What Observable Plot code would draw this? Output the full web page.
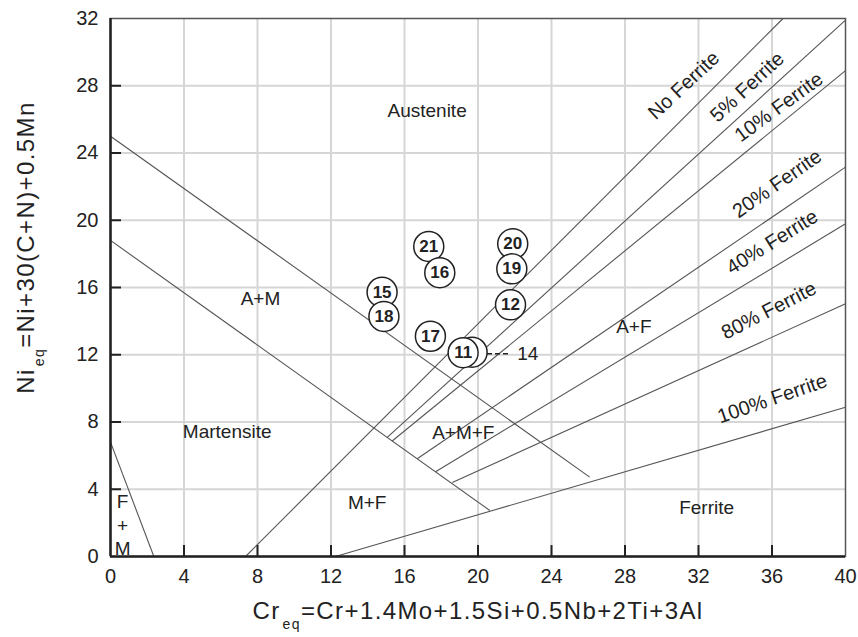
<!DOCTYPE html>
<html>
<head>
<meta charset="utf-8">
<script src="https://cdn.jsdelivr.net/npm/d3@7"></script>
<script src="https://cdn.jsdelivr.net/npm/@observablehq/plot@0.6"></script>
<style>
  body { margin: 0; background: #fff; }
  #chart svg { display: block; }
</style>
</head>
<body>
<div id="chart"></div>
<script>
// ---- tick values ----
const xTicks = [0, 4, 8, 12, 16, 20, 24, 28, 32, 36, 40];
const yTicks = [0, 4, 8, 12, 16, 20, 24, 28, 32];

// ---- boundary lines of the Schaeffler diagram ----
const lineNames = ["A / A+M", "M / A+M", "F+M / M", "No Ferrite", "5% Ferrite", "10% Ferrite", "20% Ferrite", "40% Ferrite", "80% Ferrite", "100% Ferrite"];
const lineX1 = [0, 0, 0, 7.35, 15.06, 15.33, 16.69, 17.69, 18.6, 12.24];
const lineY1 = [25, 18.8, 6.8, 0, 7.08, 6.87, 5.81, 5.04, 4.4, 0];
const lineX2 = [26.08, 20.64, 2.36, 36.6, 40, 40, 40, 40, 40, 40];
const lineY2 = [4.72, 2.74, 0, 32, 31.9, 28.9, 23.16, 19.79, 15.03, 8.88];

// ---- alloys (numbered circles) ----
const alloyIds = ["21", "16", "20", "19", "12", "15", "18", "17", "14", "11"];
const alloyCr  = [17.32, 17.92, 21.89, 21.84, 21.77, 14.78, 14.88, 17.41, 19.68, 19.19];
const alloyNi  = [18.44, 16.88, 18.6, 17.11, 14.97, 15.72, 14.28, 13.1, 12.15, 12.12];

// leader for alloy 14
const leaderX1 = [20.49];
const leaderX2 = [21.67];
const leaderY  = [12.06];
const leaderLabel = ["14"];
const leaderLabelX = [22.13];

// ---- region labels ----
const regionText = ["Austenite", "A+M", "Martensite", "M+F", "A+M+F", "A+F", "Ferrite", "F", "+", "M"];
const regionX = [17.23, 8.16, 6.35, 13.97, 19.2, 28.48, 32.44, 0.66, 0.66, 0.66];
const regionY = [26.52, 15.33, 7.39, 3.17, 7.35, 13.64, 2.9, 3.23, 1.84, 0.46];

// ---- ferrite-line labels ----
const ferriteText = ["No Ferrite", "5% Ferrite", "10% Ferrite", "20% Ferrite", "40% Ferrite", "80% Ferrite", "100% Ferrite"];
const ferriteX = [31.2, 34.65, 36.37, 36.28, 36.01, 35.83, 36.01];
const ferriteY = [28.02, 27.92, 26.73, 22.17, 18.70, 14.63, 9.38];
const ferriteAngle = [-43, -43, -36, -35, -32, -27, -19];

// ---- axis titles (main / subscript / rest) ----
const xTitleParts = ["Cr", "eq", "=Cr+1.4Mo+1.5Si+0.5Nb+2Ti+3Al"];
const yTitleParts = ["Ni", "eq", "=Ni+30(C+N)+0.5Mn"];

// build tables
const lines = lineNames.map((name, i) => ({name, x1: lineX1[i], y1: lineY1[i], x2: lineX2[i], y2: lineY2[i]}));
const alloys = alloyIds.map((id, i) => ({id, cr: alloyCr[i], ni: alloyNi[i]}));
const leaders = leaderLabel.map((t, i) => ({t, x1: leaderX1[i], x2: leaderX2[i], y: leaderY[i], lx: leaderLabelX[i]}));
const regions = regionText.map((t, i) => ({t, x: regionX[i], y: regionY[i]}));
const ferrite = ferriteText.map((t, i) => ({t, x: ferriteX[i], y: ferriteY[i], a: ferriteAngle[i]}));
const xTitle = xTitleParts.join("");
const yTitle = yTitleParts.join("");

const font = "Arial, 'Liberation Sans', sans-serif";
const innerX = xTicks.filter(t => t > 0 && t < 40);
const innerY = yTicks.filter(t => t > 0 && t < 32);

const chart = Plot.plot({
  width: 858,
  height: 637,
  marginLeft: 110,
  marginRight: 13,
  marginTop: 18,
  marginBottom: 81,
  x: {domain: [0, 40]},
  y: {domain: [0, 32]},
  style: {fontFamily: font, fontSize: "20px", color: "#222", background: "#fff"},
  marks: [
    Plot.ruleX(innerX, {stroke: "#d6d6d6", strokeWidth: 2}),
    Plot.ruleY(innerY, {stroke: "#d6d6d6", strokeWidth: 2}),
    Plot.link(lines, {x1: "x1", y1: "y1", x2: "x2", y2: "y2", stroke: "#555", strokeWidth: 1.1}),
    Plot.link(leaders, {x1: "x1", x2: "x2", y1: "y", y2: "y", stroke: "#222", strokeWidth: 1.3, strokeDasharray: "5,3"}),
    Plot.text(leaders, {x: "lx", y: "y", text: "t", textAnchor: "start", fontSize: 19, fill: "#222"}),
    Plot.dot(alloys, {x: "cr", y: "ni", r: 15, fill: "white", stroke: "#222", strokeWidth: 1.5}),
    Plot.text(alloys.filter(d => !leaderLabel.includes(d.id)), {x: "cr", y: "ni", text: "id", fontWeight: "bold", fontSize: 17, fill: "#222"}),
    Plot.text(regions, {x: "x", y: "y", text: "t", fontSize: 19, fill: "#222"}),
    Plot.text(ferrite, {x: "x", y: "y", text: "t", rotate: "a", fontSize: 20, fill: "#222"}),
    Plot.frame({stroke: "#555", strokeWidth: 1.5}),
    Plot.ruleX([0], {stroke: "#222", strokeWidth: 2.5}),
    Plot.ruleY([0], {stroke: "#222", strokeWidth: 2.5}),
    Plot.ruleX(innerX, {y1: 0, y2: 0.65, stroke: "#222", strokeWidth: 2}),
    Plot.ruleY(innerY, {x1: 0, x2: 0.6, stroke: "#222", strokeWidth: 2}),
    Plot.axisX({ticks: xTicks, tickSize: 0, tickPadding: 12, label: null, fontSize: 20}),
    Plot.axisY({ticks: yTicks, tickSize: 0, tickPadding: 12, label: null, fontSize: 20}),
    Plot.text([xTitle], {frameAnchor: "bottom", dy: 62, fontSize: 24, fill: "#222"}),
    Plot.text([yTitle], {frameAnchor: "left", textAnchor: "middle", rotate: -90, dx: -84, dy: -40, fontSize: 24, fill: "#222"})
  ]
});

// rebuild axis titles with a subscript "eq"
d3.select(chart).selectAll("text").each(function () {
  const t = this.textContent;
  let parts = null;
  if (t === xTitle) parts = xTitleParts;
  else if (t === yTitle) parts = yTitleParts;
  if (!parts) return;
  const el = d3.select(this);
  el.text(null).attr("letter-spacing", "1.4px");
  el.append("tspan").text(parts[0]);
  el.append("tspan").attr("dy", 10).attr("dx", 2).attr("font-size", 14).text(parts[1]);
  el.append("tspan").attr("dy", -10).text(parts[2]);
});

document.getElementById("chart").appendChild(chart);
</script>
</body>
</html>
